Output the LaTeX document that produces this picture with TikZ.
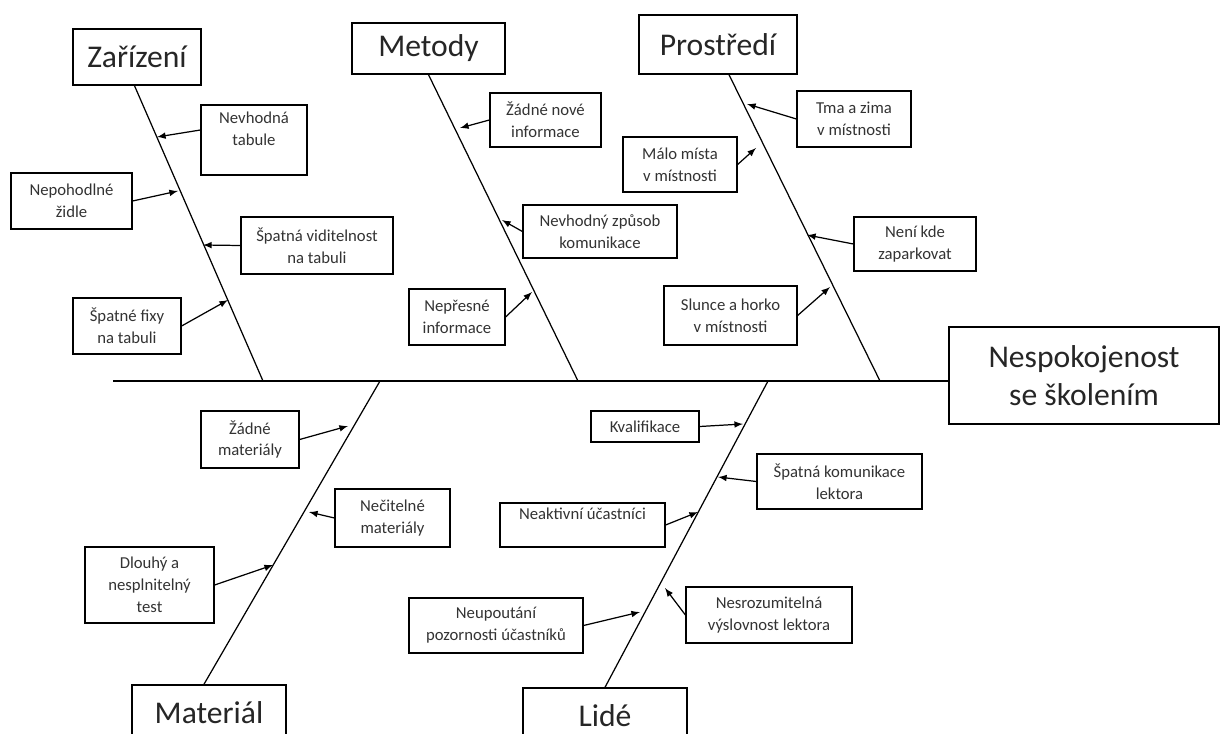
\documentclass[tikz,border=0pt]{standalone}
\usepackage{fontspec}
\setmainfont{Carlito}

\tikzset{
	group/.style={draw, line width=0.8pt, inner sep=0pt, align=center, text=black!85,
		font=\fontsize{18}{21.5}\selectfont},
	cause/.style={draw, line width=0.7pt, inner sep=0pt, align=center, text=black!80,
		font=\fontsize{9.5}{12.5}\selectfont},
	bone/.style={line width=0.7pt},
	arr/.style={-latex, line width=0.7pt},
}

\begin{document}
\begin{tikzpicture}[x=0.02cm, y=-0.02cm]
	\clip[use as bounding box] (0,0) rectangle (1222,733);
	\fill[white] (0,0) rectangle (1222,733);

	% Groups
	\node[group, minimum width=2.56cm, minimum height=1.12cm] (zar) at (137,57) {Zařízení};
	\node[group, minimum width=3.06cm, minimum height=1.02cm] (met) at (428.5,48.5) {Metody};
	\node[group, minimum width=3.16cm, minimum height=1.18cm] (pro) at (718,44.5) {Prostředí};
	\node[group, minimum width=3.08cm, minimum height=1.12cm] (mat) at (209,713) {Materiál};
	\node[group, minimum width=3.28cm, minimum height=1.12cm] (lid) at (605,716) {Lidé};
	\node[group, minimum width=5.40cm, minimum height=1.94cm] (main) at (1084,375.5) {Nespokojenost\\se školením};

	% Spine and bones
	\coordinate (sp) at (113,381);
	\coordinate (zb) at (263,381);
	\coordinate (mb) at (578,381);
	\coordinate (pb) at (880,381);
	\coordinate (ab) at (380,381);
	\coordinate (lb) at (768,381);
	\draw[bone] (sp) -- (sp -| main.west);
	\draw[bone] (zar.265) -- (zb);
	\draw[bone] (met.south) -- (mb);
	\draw[bone] (pro.290) -- (pb);
	\draw[bone] (mat.100) -- (ab);
	\draw[bone] (lid.north) -- (lb);

	% Causes
	\node[cause, minimum width=2.12cm, minimum height=1.40cm] (zt) at (254,140) {Nevhodná\\tabule\\ \mbox{}};
	\node[cause, minimum width=2.42cm, minimum height=1.12cm] (zz) at (71.5,201) {Nepohodlné\\židle};
	\node[cause, minimum width=3.04cm, minimum height=1.14cm] (zv) at (317,245.5) {Špatná viditelnost\\na tabuli};
	\node[cause, minimum width=2.16cm, minimum height=1.12cm] (zf) at (127,326) {Špatné fixy\\na tabuli};

	\node[cause, minimum width=2.22cm, minimum height=1.08cm] (mz) at (545.5,120) {Žádné nové\\informace};
	\node[cause, minimum width=3.08cm, minimum height=1.06cm] (mk) at (600,231.5) {Nevhodný způsob\\komunikace};
	\node[cause, minimum width=1.92cm, minimum height=1.12cm] (mn) at (457,317) {Nepřesné\\informace};

	\node[cause, minimum width=2.28cm, minimum height=1.10cm] (pm) at (680,164.5) {Málo místa\\v místnosti};
	\node[cause, minimum width=2.28cm, minimum height=1.12cm] (pt) at (854,119) {Tma a zima\\v místnosti};
	\node[cause, minimum width=2.44cm, minimum height=1.08cm] (pp) at (915,244) {Není kde\\zaparkovat};
	\node[cause, minimum width=2.66cm, minimum height=1.18cm] (ps) at (730.5,315.5) {Slunce a horko\\v místnosti};

	\node[cause, minimum width=1.96cm, minimum height=1.14cm] (az) at (250,439.5) {Žádné\\materiály};
	\node[cause, minimum width=2.30cm, minimum height=1.16cm] (an) at (392.5,518) {Nečitelné\\materiály};
	\node[cause, minimum width=2.58cm, minimum height=1.52cm] (ad) at (149.5,585) {Dlouhý a\\nesplnitelný\\test};

	\node[cause, minimum width=2.16cm, minimum height=0.62cm] (lk) at (645,426.5) {Kvalifikace};
	\node[cause, minimum width=3.30cm, minimum height=1.10cm] (ls) at (839.5,481.5) {Špatná komunikace\\lektora};
	\node[cause, minimum width=3.30cm, minimum height=0.88cm] (la) at (582.5,525) {Neaktivní účastníci\\ \mbox{}};
	\node[cause, minimum width=3.48cm, minimum height=1.10cm] (ln) at (496,625.5) {Neupoutání\\pozornosti účastníků};
	\node[cause, minimum width=3.32cm, minimum height=1.12cm] (lv) at (769,615) {Nesrozumitelná\\výslovnost lektora};

	% Arrow ends on the bones
	\coordinate (zt-e) at (157,137);
	\coordinate (zz-e) at (178,191);
	\coordinate (zv-e) at (203,245);
	\coordinate (zf-e) at (228,300);
	\coordinate (mz-e) at (460,128);
	\coordinate (mk-e) at (502,220);
	\coordinate (mn-e) at (532,292);
	\coordinate (pt-e) at (747,104);
	\coordinate (pm-e) at (756,148);
	\coordinate (pp-e) at (807,235);
	\coordinate (ps-e) at (830,287);
	\coordinate (az-e) at (348,426);
	\coordinate (an-e) at (309,512);
	\coordinate (ad-e) at (273,565);
	\coordinate (lk-e) at (743,424);
	\coordinate (ls-e) at (718,477);
	\coordinate (la-e) at (698,512);
	\coordinate (ln-e) at (640,612);
	\coordinate (lv-e) at (665,588);

	\draw[arr] ([yshift=0.2cm]zt.west) -- (zt-e);
	\foreach \s/\e in {zz.east/zz-e, zv.west/zv-e, zf.east/zf-e,
		mz.west/mz-e, mk.west/mk-e, mn.east/mn-e,
		pt.west/pt-e, pm.east/pm-e, pp.west/pp-e, ps.east/ps-e,
		az.east/az-e, an.west/an-e, ad.east/ad-e,
		lk.east/lk-e, ls.west/ls-e, la.east/la-e, ln.east/ln-e, lv.west/lv-e} {
		\draw[arr] (\s) -- (\e);
	}
\end{tikzpicture}
\end{document}
